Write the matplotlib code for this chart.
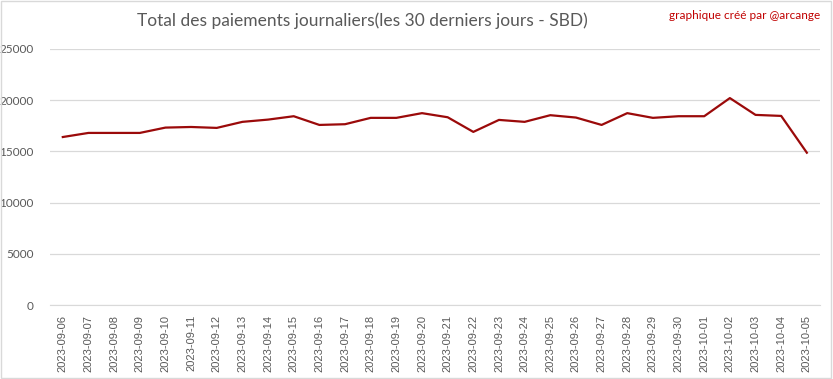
import matplotlib.pyplot as plt
from matplotlib.patches import Rectangle

dates = ["2023-09-06", "2023-09-07", "2023-09-08", "2023-09-09", "2023-09-10",
         "2023-09-11", "2023-09-12", "2023-09-13", "2023-09-14", "2023-09-15",
         "2023-09-16", "2023-09-17", "2023-09-18", "2023-09-19", "2023-09-20",
         "2023-09-21", "2023-09-22", "2023-09-23", "2023-09-24", "2023-09-25",
         "2023-09-26", "2023-09-27", "2023-09-28", "2023-09-29", "2023-09-30",
         "2023-10-01", "2023-10-02", "2023-10-03", "2023-10-04", "2023-10-05"]
payments = [16400, 16800, 16800, 16800, 17320, 17380, 17290, 17880, 18100, 18430,
            17580, 17650, 18270, 18270, 18730, 18330, 16900, 18070, 17880, 18530,
            18300, 17580, 18730, 18270, 18430, 18430, 20200, 18560, 18460, 14870]
yticks = [0, 5000, 10000, 15000, 20000, 25000]

plt.rcParams['font.family'] = ['Lato', 'DejaVu Sans']

fig = plt.figure(figsize=(8.33, 3.79), dpi=100)
ax = fig.add_axes([0.06, 0.195, 0.924, 0.676])

x = range(len(dates))
ax.plot(x, payments, color="#9B0A0A", linewidth=1.6)

ax.set_xlim(-0.5, len(dates) - 0.5)
ax.set_ylim(0, 25000)
ax.set_yticks(yticks)
ax.set_yticklabels([str(v) for v in yticks])
ax.set_xticks(list(x))
ax.set_xticklabels(dates, rotation=90, fontsize=8, family=['Liberation Sans', 'DejaVu Sans'])
ax.tick_params(axis="both", length=0, labelcolor="#595959")
ax.tick_params(axis="y", pad=12, labelsize=8.5)
ax.tick_params(axis="x", pad=7)
ax.grid(axis="y", color="#D9D9D9", linewidth=0.9)
ax.set_axisbelow(True)
for side in ["top", "right", "left"]:
    ax.spines[side].set_visible(False)
ax.spines["bottom"].set_color("#D9D9D9")

fig.text(0.435, 0.945, "Total des paiements journaliers(les 30 derniers jours - SBD)",
         ha="center", va="center", fontsize=12.5, color="#595959")
fig.text(0.985, 0.958, "graphique créé par @arcange", ha="right", va="center",
         fontsize=8.5, color="#C00000")

fig.patches.append(Rectangle((0.001, 0.002), 0.997, 0.995, transform=fig.transFigure,
                             fill=False, edgecolor="#D9D9D9", linewidth=1))

plt.savefig("out.png")
